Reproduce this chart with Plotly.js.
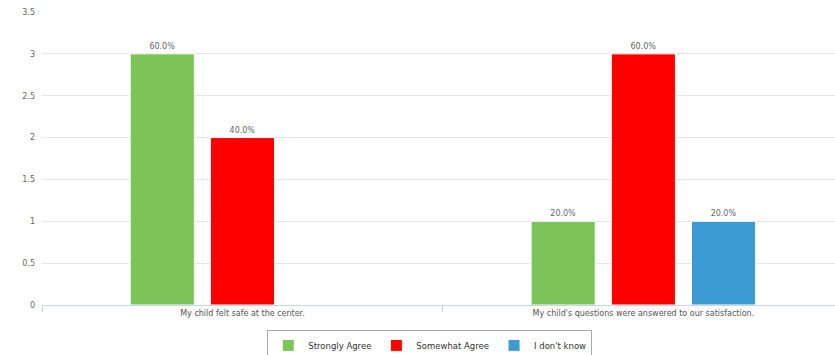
<!DOCTYPE html>
<html>
<head>
<meta charset="utf-8">
<script src="https://cdn.plot.ly/plotly-3.0.1.min.js"></script>
<style>html,body{margin:0;padding:0;background:#fff;}#chart{width:835px;height:355px;}</style>
</head>
<body>
<div id="chart"></div>
<script>
const categories = ["My child felt safe at the center.", "My child's questions were answered to our satisfaction."];
const strongly = [3, 1];
const somewhat = [2, 3];
const dontKnow = [null, 1];
const stronglyPct = ["60.0%", "20.0%"];
const somewhatPct = ["40.0%", "60.0%"];
const dontKnowPct = ["", "20.0%"];
const yTicks = [0, 0.5, 1, 1.5, 2, 2.5, 3, 3.5];

function series(name, y, txt, color) {
  return {
    type: 'bar', name: name, x: categories, y: y, text: txt,
    textposition: 'outside', cliponaxis: false,
    textfont: {family: 'DejaVu Sans', size: 8, color: '#666'},
    marker: {color: color, line: {color: '#ffffff', width: 1}},
    hoverinfo: 'none'
  };
}
const data = [
  series('Strongly Agree', strongly, stronglyPct, '#7cc358'),
  series('Somewhat Agree', somewhat, somewhatPct, '#ff0000'),
  series("I don't know", dontKnow, dontKnowPct, '#3b9bd3')
];
const layout = {
  width: 835, height: 355,
  margin: {l: 42, r: 0, t: 12, b: 50, autoexpand: false},
  paper_bgcolor: '#fff', plot_bgcolor: '#fff',
  barmode: 'group', bargap: 0.4, bargroupgap: 0.2,
  font: {family: 'DejaVu Sans', size: 8, color: '#666'},
  xaxis: {
    range: [-0.5, 1.478], showgrid: false, zeroline: false,
    showline: true, linecolor: '#ccd6eb', linewidth: 1,
    ticks: 'outside', tickson: 'boundaries', ticklen: 6, tickcolor: '#ccd6eb',
    tickfont: {family: 'DejaVu Sans', size: 8, color: '#555'}
  },
  yaxis: {
    range: [0, 3.5], tickvals: yTicks, ticktext: yTicks.map(String),
    showgrid: true, gridcolor: '#e6e6e6', zeroline: false,
    tickfont: {family: 'DejaVu Sans', size: 8, color: '#666'},
    ticklabelstandoff: 6
  },
  showlegend: true,
  legend: {
    orientation: 'h', x: 0.489, xanchor: 'center', y: -0.085, yanchor: 'top',
    bordercolor: '#aaa', borderwidth: 1, bgcolor: '#fff',
    font: {family: 'DejaVu Sans', size: 8.5, color: '#333'},
    itemwidth: 30, tracegroupgap: 0, traceorder: 'normal'
  }
};
Plotly.newPlot('chart', data, layout, {displayModeBar: false, staticPlot: true});
</script>
</body>
</html>
